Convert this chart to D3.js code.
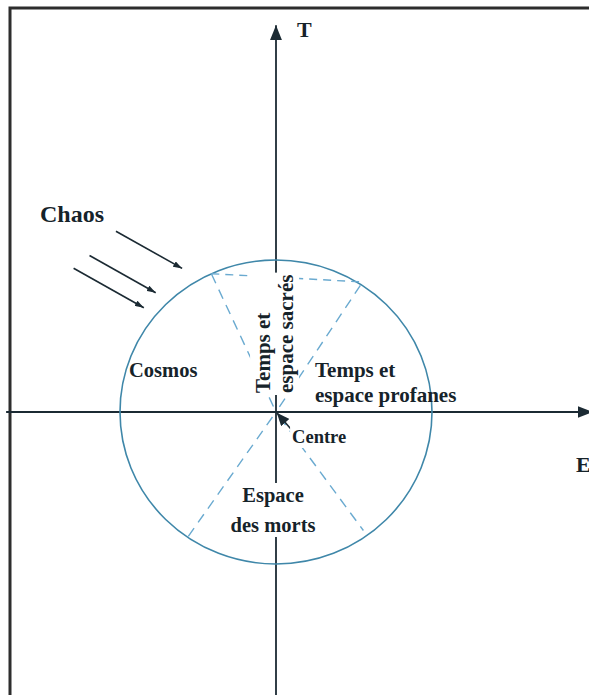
<!DOCTYPE html>
<html>
<head>
<meta charset="utf-8">
<script src="https://cdn.jsdelivr.net/npm/d3@7"></script>
<style>
  html, body { margin: 0; padding: 0; background: #fff; }
  svg text { font-family: "Liberation Serif", "Times New Roman", serif; font-weight: bold; fill: #16232a; }
</style>
</head>
<body>
<svg id="chart" width="589" height="695"></svg>
<script>
// axis names (time, space)
var axisNames = ["T", "E"];
// zone labels, one entry per text line
var zoneLabels = [
  ["Chaos"],
  ["Cosmos"],
  ["Temps et", "espace sacrés"],
  ["Temps et", "espace profanes"],
  ["Espace", "des morts"]
];
var centreLabel = "Centre";

// dashed dividers : degrees clockwise from the T axis, reach in circle radii
var dividerAngles = [-24.5, 33, 144.3, 214.5];
var dividerReach = [1.0, 1.02, 0.96, 1.0];

// chaos arrows : polar angle of the tip, tip distance, length (radii)
var chaosAngles = [-32.5, -44.5, -51];
var chaosTips = [1.12, 1.10, 1.09];
var chaosLengths = [0.49, 0.49, 0.52];

var svg = d3.select('#chart');

// unit circle -> page
var x = d3.scaleLinear().domain([-1, 1]).range([120, 432]);
var y = d3.scaleLinear().domain([-1, 1]).range([564, 260]);

var polar = function(deg, r) {
  var a = deg * Math.PI / 180;
  return [x(r * Math.sin(a)), y(r * Math.cos(a))];
};

var ink = '#1b2a33';
var blue = '#3f87a9';
var dash = '#6aaad0';

var defs = svg.append('defs');
var marker = function(id, w, h) {
  defs.append('marker')
    .attr('id', id)
    .attr('markerUnits', 'userSpaceOnUse')
    .attr('markerWidth', w).attr('markerHeight', h)
    .attr('refX', w).attr('refY', h / 2)
    .attr('orient', 'auto')
    .append('path')
    .attr('d', 'M0,0L' + w + ',' + (h / 2) + 'L0,' + h + 'Z')
    .attr('fill', ink);
};
marker('axisHead', 15, 12);
marker('smallHead', 9, 6);
marker('centreHead', 13, 11);

// frame
svg.append('rect')
  .attr('x', 10).attr('y', 8)
  .attr('width', 640).attr('height', 740)
  .attr('fill', 'none')
  .attr('stroke', '#2d2d2d')
  .attr('stroke-width', 3);

// the two axes
svg.append('line')
  .attr('x1', x(0)).attr('y1', y(-1.95))
  .attr('x2', x(0)).attr('y2', y(2.545))
  .attr('stroke', ink).attr('stroke-width', 1.8)
  .attr('marker-end', 'url(#axisHead)');

svg.append('line')
  .attr('x1', x(-1.73)).attr('y1', y(0))
  .attr('x2', x(2.03)).attr('y2', y(0))
  .attr('stroke', ink).attr('stroke-width', 1.8)
  .attr('marker-end', 'url(#axisHead)');

// cosmos
svg.append('ellipse')
  .attr('cx', x(0)).attr('cy', y(0))
  .attr('rx', x(1) - x(0)).attr('ry', y(0) - y(1))
  .attr('fill', 'none')
  .attr('stroke', blue).attr('stroke-width', 1.6);

// dashed sectors
dividerAngles.forEach(function(a, i) {
  var p0 = polar(a, 0.04), p1 = polar(a, dividerReach[i]);
  svg.append('line')
    .attr('x1', p0[0]).attr('y1', p0[1])
    .attr('x2', p1[0]).attr('y2', p1[1])
    .attr('stroke', dash).attr('stroke-width', 1.4)
    .attr('stroke-dasharray', '10,7');
});
var c0 = polar(dividerAngles[0], dividerReach[0]);
var c1 = polar(dividerAngles[1], dividerReach[1]);
svg.append('line')
  .attr('x1', c0[0]).attr('y1', c0[1])
  .attr('x2', c1[0]).attr('y2', c1[1])
  .attr('stroke', dash).attr('stroke-width', 1.4)
  .attr('stroke-dasharray', '8,6');

// chaos arrows
var cos30 = Math.cos(Math.PI / 6), sin30 = Math.sin(Math.PI / 6);
chaosAngles.forEach(function(a, i) {
  var r = chaosTips[i], L = chaosLengths[i];
  var rad = a * Math.PI / 180;
  var tx = r * Math.sin(rad), ty = r * Math.cos(rad);
  svg.append('line')
    .attr('x1', x(tx - L * cos30)).attr('y1', y(ty + L * sin30))
    .attr('x2', x(tx)).attr('y2', y(ty))
    .attr('stroke', ink).attr('stroke-width', 1.6)
    .attr('marker-end', 'url(#smallHead)');
});

// text with an optional white box behind it
var addLabel = function(lines, px, py, size, gap, anchor, rotate, boxed) {
  var g = svg.append('g')
    .attr('transform', 'translate(' + px + ',' + py + ')' + (rotate ? ' rotate(-90)' : ''));
  var t = g.append('text')
    .attr('font-size', size)
    .attr('text-anchor', anchor);
  lines.forEach(function(s, i) {
    t.append('tspan').attr('x', 0).attr('y', i * gap).text(s);
  });
  if (boxed) {
    var b = t.node().getBBox();
    g.insert('rect', 'text')
      .attr('x', b.x - 2).attr('y', b.y - 1)
      .attr('width', b.width + 4).attr('height', b.height + 2)
      .attr('fill', '#fff');
  }
  return g;
};

addLabel(zoneLabels[0], x(-1.513), y(1.25), 24, 0, 'start', false, false);
addLabel(zoneLabels[1], x(-0.942), y(0.23), 20.5, 0, 'start', false, false);
addLabel(zoneLabels[2], x(-0.038), y(0.125), 21, 23, 'start', true, true);
addLabel(zoneLabels[3], x(0.25), y(0.23), 21, 25, 'start', false, false);
addLabel(zoneLabels[4], x(-0.019), y(-0.592), 20.5, 30, 'middle', false, true);

// centre pointer
svg.append('line')
  .attr('x1', x(0.115)).attr('y1', y(-0.135))
  .attr('x2', x(0.005)).attr('y2', y(-0.005))
  .attr('stroke', ink).attr('stroke-width', 1.6)
  .attr('marker-end', 'url(#centreHead)');
addLabel([centreLabel], x(0.103), y(-0.204), 18.5, 0, 'start', false, true);

// axis names
addLabel([axisNames[0]], x(0.135), y(2.467), 22, 0, 'start', false, false);
addLabel([axisNames[1]], x(1.923), y(-0.395), 22, 0, 'start', false, false);
</script>
</body>
</html>
